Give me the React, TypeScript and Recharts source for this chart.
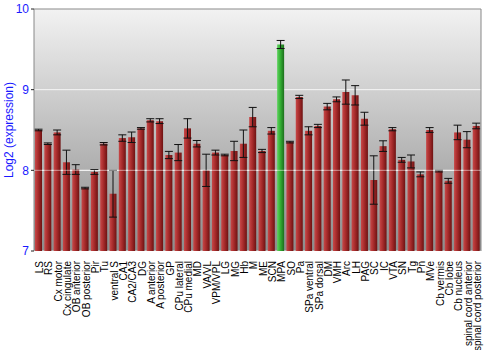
import { Bar, BarChart, CartesianGrid, Cell, ErrorBar, ReferenceLine, XAxis, YAxis } from "recharts"

const regions = [
  "LS", "RS", "Cx motor", "Cx cingulate", "OB anterior", "OB posterior", "Pir", "Tu",
  "ventral S", "CA1", "CA2/CA3", "DG", "A anterior", "A posterior", "GP", "CPu lateral",
  "CPu medial", "MD", "VA/VL", "VPM/VPL", "LG", "MG", "Hb", "M", "ME", "SCN", "MPA", "SO",
  "Pa", "SPa ventral", "SPa dorsal", "DM", "VMH", "Arc", "LH", "PAG", "SC", "IC", "VTA",
  "SN", "Tg", "Pn", "MVe", "Cb vermis", "Cb lobe", "Cb nucleus", "spinal cord anterior",
  "spinal cord posterior",
]

const expression = [
  8.5, 8.33, 8.47, 8.1, 8.01, 7.78, 7.98, 8.33,
  7.71, 8.4, 8.41, 8.52, 8.62, 8.61, 8.19, 8.22,
  8.52, 8.33, 8.0, 8.22, 8.19, 8.24, 8.33, 8.66, 8.24, 8.49, 9.56, 8.35,
  8.91, 8.49, 8.55, 8.79, 8.88, 8.97, 8.93, 8.64, 7.88, 8.3, 8.51,
  8.13, 8.11, 7.95, 8.5, 7.99, 7.87, 8.47, 8.38,
  8.55,
]

const stdErr = [
  0.01, 0.01, 0.03, 0.15, 0.06, 0.01, 0.03, 0.015,
  0.29, 0.04, 0.065, 0.01, 0.02, 0.03, 0.045, 0.1,
  0.12, 0.04, 0.2, 0.03, 0.01, 0.12, 0.17, 0.12, 0.02, 0.04, 0.05, 0.01,
  0.02, 0.05, 0.02, 0.04, 0.03, 0.15, 0.12, 0.08, 0.3, 0.066, 0.02,
  0.03, 0.08, 0.03, 0.03, 0.01, 0.03, 0.09, 0.1,
  0.035,
]

const yTicks = [7, 8, 9, 10]
const highlight = "MPA"

const data = regions.map((name, i) => ({ name, value: expression[i], err: stdErr[i] }))

const font = "'Liberation Sans', Arial, sans-serif"

function RegionTick(props: any) {
  const { x, y, payload } = props
  return (
    <text
      x={0}
      y={0}
      transform={`translate(${x + 1},${y + 2}) rotate(-90)`}
      textAnchor="end"
      dominantBaseline="central"
      fontSize={10}
      fontFamily={font}
      fill="#000"
    >
      {payload.value}
    </text>
  )
}

export default function App() {
  return (
    <div style={{ position: "absolute", left: 0, top: 0 }}>
      <BarChart
        width={500}
        height={350}
        data={data}
        margin={{ top: 9, right: 0, left: 0, bottom: 0 }}
      >
        <defs>
          <linearGradient id="bg" x1="0" y1="0" x2="0" y2="1">
            <stop offset="0%" stopColor="#f2f2f2" />
            <stop offset="100%" stopColor="#8c8c8c" />
          </linearGradient>
          <linearGradient id="red" x1="0" y1="0" x2="1" y2="0">
            <stop offset="0%" stopColor="#c84848" />
            <stop offset="45%" stopColor="#a82c2c" />
            <stop offset="100%" stopColor="#6e1212" />
          </linearGradient>
          <linearGradient id="green" x1="0" y1="0" x2="1" y2="0">
            <stop offset="0%" stopColor="#5fd35f" />
            <stop offset="45%" stopColor="#34b034" />
            <stop offset="100%" stopColor="#1c6e1c" />
          </linearGradient>
        </defs>
        <CartesianGrid
          yAxisId="l"
          vertical={false}
          stroke="#ffffff"
          strokeOpacity={0.8}
          fill="url(#bg)"
          fillOpacity={1}
        />
        <XAxis
          dataKey="name"
          interval={0}
          height={99}
          axisLine={false}
          tickLine={false}
          tick={<RegionTick />}
        />
        <YAxis
          yAxisId="l"
          domain={[7, 10]}
          ticks={yTicks}
          width={34}
          stroke="#888888"
          tickSize={3}
          tickLine={{ stroke: "#222" }}
          tick={{ fill: "#1a1aff", fontSize: 12, fontFamily: font }}
          label={{
            value: "Log2 (expression)",
            angle: -90,
            position: "insideLeft",
            dx: 4,
            fill: "#1a1aff",
            fontSize: 12,
            fontFamily: font,
            style: { textAnchor: "middle" },
          }}
        />
        <YAxis
          yAxisId="r"
          orientation="right"
          domain={[7, 10]}
          ticks={yTicks}
          width={19}
          stroke="#888888"
          tickSize={3}
          tickLine={{ stroke: "#222" }}
          tick={{ fill: "#1a1aff", fontSize: 12, fontFamily: font, textAnchor: "start" }}
        />
        <Bar yAxisId="l" dataKey="value" barSize={7} isAnimationActive={false}>
          {data.map((d) => (
            <Cell key={d.name} fill={d.name === highlight ? "url(#green)" : "url(#red)"} />
          ))}
          <ErrorBar dataKey="err" width={4} stroke="#111" strokeWidth={1} isAnimationActive={false} />
        </Bar>
        <ReferenceLine yAxisId="l" y={8} stroke="#ffffff" strokeOpacity={0.5} />
        <ReferenceLine yAxisId="l" y={10} stroke="#888888" />
      </BarChart>
    </div>
  )
}
